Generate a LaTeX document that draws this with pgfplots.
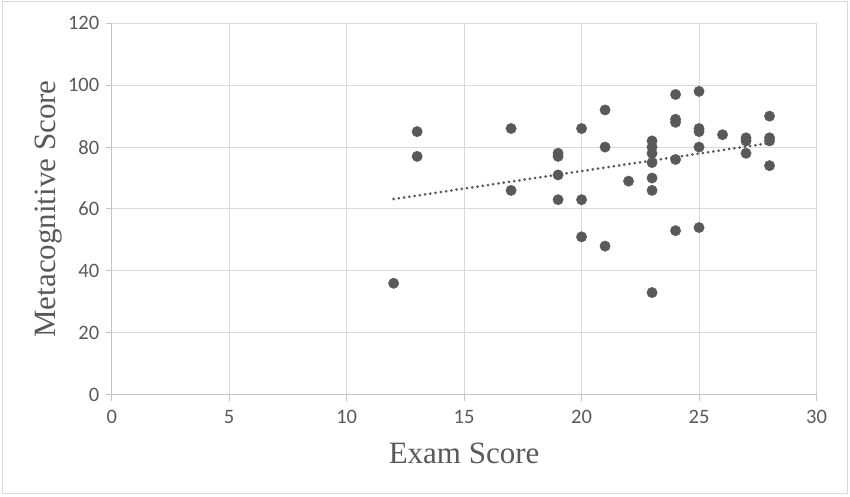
\documentclass[border=0pt]{standalone}
\usepackage{pgfplots}
\pgfplotsset{compat=1.18}
\usepackage{fontspec}
\setmainfont{Liberation Serif}
\newfontfamily\tickfont{Carlito}
\definecolor{txt}{HTML}{595959}
\definecolor{gridc}{HTML}{D9D9D9}
\definecolor{axc}{HTML}{C4C4C4}
\definecolor{dotc}{HTML}{595959}
\begin{document}
\begin{tikzpicture}[x=1bp,y=1bp]
\useasboundingbox (0,0) rectangle (850,497);
\draw[color=gridc, line width=1bp] (2.5,3.5) rectangle (847,495.5);
\begin{axis}[
  at={(111.7bp,102.3bp)}, anchor=south west,
  width=704.8bp, height=371.4bp, scale only axis,
  xmin=0, xmax=30, ymin=0, ymax=120,
  xtick={0,5,...,30}, ytick={0,20,...,120},
  grid=major,
  major grid style={color=gridc, line width=1bp},
  axis x line*=bottom, axis y line*=left,
  axis line style={color=axc, line width=1bp, -},
  every tick/.style={color=axc, line width=1bp},
  tick align=outside, major tick length=6bp,
  x axis line style={-}, y axis line style={-},
  /pgf/number format/assume math mode=true,
  tick label style={font=\tickfont\fontsize{20.5bp}{20.5bp}\selectfont, text=txt},
  yticklabel style={xshift=-3bp},
  xticklabel style={yshift=-6bp},
  label style={font=\fontsize{31bp}{31bp}\selectfont, text=txt},
  xlabel={Exam Score},
  ylabel={Metacognitive Score},
  xlabel style={at={(axis description cs:0.5,-0.1847)}, anchor=base},
  ylabel style={at={(axis description cs:-0.0804,0.5)}, anchor=base, rotate=0},
  clip=false,
]
\addplot[only marks, mark=*, mark size=5.2bp, color=dotc, mark options={draw=dotc, fill=dotc}] coordinates {
(12,36) (13,85) (13,77) (17,86) (17,66)
(19,78) (19,77) (19,71) (19,63)
(20,86) (20,63) (20,51)
(21,92) (21,80) (21,48)
(22,69)
(23,82) (23,80) (23,78) (23,75) (23,70) (23,66) (23,33)
(24,97) (24,89) (24,88) (24,76) (24,53)
(25,98) (25,86) (25,85) (25,80) (25,54)
(26,84)
(27,83) (27,82) (27,78)
(28,90) (28,83) (28,82) (28,74)
};
\addplot[color=dotc, line width=3bp, line cap=round, dash pattern=on 0bp off 5.3bp] coordinates {(12,63.2) (28,81.3)};
\end{axis}
\end{tikzpicture}
\end{document}
